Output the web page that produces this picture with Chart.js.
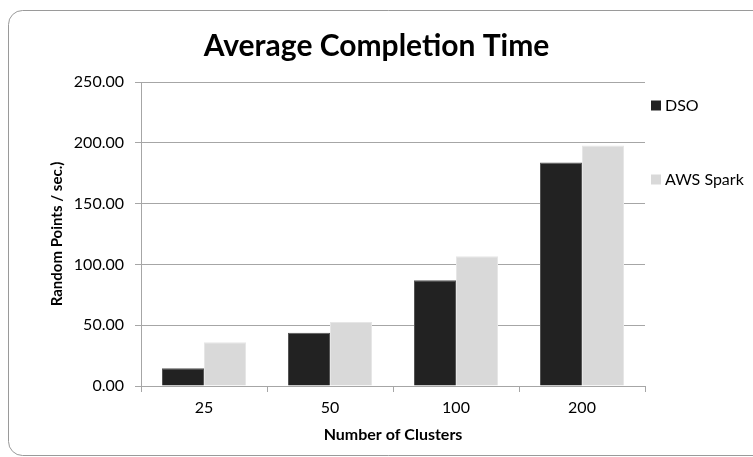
<!DOCTYPE html>
<html>
<head>
<meta charset="utf-8">
<script src="https://cdn.jsdelivr.net/npm/chart.js@4.4.1/dist/chart.umd.min.js"></script>
<style>
  html, body { margin: 0; padding: 0; background: #ffffff; }
  #wrap { width: 753px; height: 457px; position: relative; }
</style>
</head>
<body>
<div id="wrap"><canvas id="chart" width="753" height="457"></canvas></div>
<script>
// Cluster counts along the x axis
const clusters = ['25', '50', '100', '200'];
// Throughput per configuration (random points per second)
const dsoValues = [14.6, 43.8, 86.9, 183.7];
const awsSparkValues = [35.9, 52.6, 106.8, 197.7];
// Value axis ticks
const yTickValues = [0, 50, 100, 150, 200, 250];

const FONT = 'Lato, "Open Sans", sans-serif';
const AXIS_GREY = '#a6a6a6';

// Rounded frame around the whole chart
const framePlugin = {
  id: 'frame',
  beforeDraw(chart) {
    const ctx = chart.ctx;
    ctx.save();
    ctx.fillStyle = '#ffffff';
    ctx.fillRect(0, 0, chart.width, chart.height);
    const x = 8.5, y = 10.5, w = 770, h = 445, r = 14;
    ctx.beginPath();
    ctx.moveTo(x + r, y);
    ctx.lineTo(x + w - r, y);
    ctx.arcTo(x + w, y, x + w, y + r, r);
    ctx.lineTo(x + w, y + h - r);
    ctx.arcTo(x + w, y + h, x + w - r, y + h, r);
    ctx.lineTo(x + r, y + h);
    ctx.arcTo(x, y + h, x, y + h - r, r);
    ctx.lineTo(x, y + r);
    ctx.arcTo(x, y, x + r, y, r);
    ctx.closePath();
    ctx.strokeStyle = '#9a9a9a';
    ctx.lineWidth = 1;
    ctx.stroke();
    ctx.restore();
  }
};

// Vertical legend on the right, one entry per dataset
const sideLegendPlugin = {
  id: 'sideLegend',
  afterDraw(chart) {
    const ctx = chart.ctx;
    const area = chart.chartArea;
    ctx.save();
    ctx.font = '16px ' + FONT;
    ctx.textBaseline = 'middle';
    ctx.textAlign = 'left';
    chart.data.datasets.forEach((ds, i) => {
      const cy = area.top + 23.5 + i * 74;
      const bx = area.right + 6;
      ctx.fillStyle = ds.backgroundColor;
      ctx.fillRect(bx, cy - 5, 10, 10);
      ctx.fillStyle = '#000000';
      ctx.fillText(ds.label, bx + 14, cy);
    });
    ctx.restore();
  }
};

new Chart(document.getElementById('chart'), {
  type: 'bar',
  data: {
    labels: clusters,
    datasets: [
      {
        label: 'DSO',
        data: dsoValues,
        backgroundColor: '#222222',
        borderColor: '#555555',
        borderWidth: 1,
        categoryPercentage: 0.667,
        barPercentage: 1.0
      },
      {
        label: 'AWS Spark',
        data: awsSparkValues,
        backgroundColor: '#d9d9d9',
        borderColor: '#e6e6e6',
        borderWidth: 1,
        categoryPercentage: 0.667,
        barPercentage: 1.0
      }
    ]
  },
  options: {
    responsive: false,
    animation: false,
    devicePixelRatio: 1,
    layout: { padding: 0 },
    plugins: {
      legend: { display: false },
      tooltip: { enabled: false },
      title: {
        display: true,
        text: 'Average Completion Time',
        color: '#000000',
        font: { family: FONT, size: 30, weight: 'bold' },
        padding: { top: 28, bottom: 18 }
      }
    },
    scales: {
      x: {
        grid: { display: true, drawOnChartArea: false, drawTicks: true, tickLength: 6, color: AXIS_GREY, offset: true },
        border: { color: AXIS_GREY },
        ticks: { color: '#000000', font: { family: FONT, size: 16 }, padding: 6 },
        title: {
          display: true,
          text: 'Number of Clusters',
          color: '#000000',
          font: { family: FONT, size: 16, weight: 'bold' },
          padding: { top: 0, bottom: 13 }
        },
        afterFit(scale) { scale.height = 71; }
      },
      y: {
        min: 0,
        max: 250,
        afterBuildTicks(scale) { scale.ticks = yTickValues.map(v => ({ value: v })); },
        grid: { color: AXIS_GREY, tickLength: 6 },
        border: { color: AXIS_GREY },
        ticks: {
          color: '#000000',
          font: { family: FONT, size: 16 },
          padding: 11,
          callback: v => Number(v).toFixed(2)
        },
        title: {
          display: true,
          text: 'Random Points / sec.)',
          color: '#000000',
          font: { family: FONT, size: 15, weight: 'bold' },
          padding: { top: 48, bottom: 0 }
        },
        afterFit(scale) { scale.width = 141; }
      },
      // empty right-hand strip that holds the legend
      legendSpace: {
        type: 'linear',
        position: 'right',
        display: true,
        grid: { display: false, drawTicks: false },
        border: { display: false },
        ticks: { display: false },
        afterFit(scale) { scale.width = 108; }
      }
    }
  },
  plugins: [framePlugin, sideLegendPlugin]
});
</script>
</body>
</html>
